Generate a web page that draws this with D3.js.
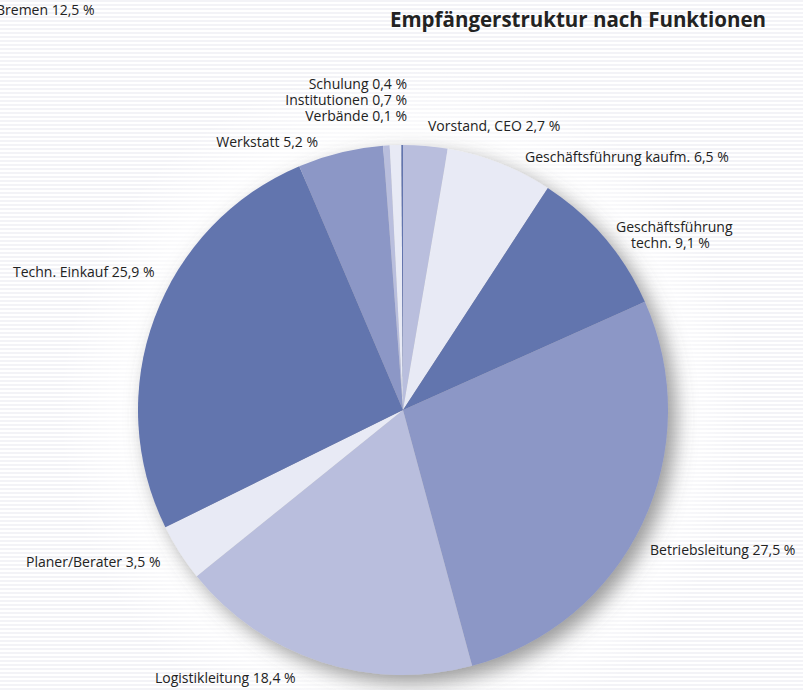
<!DOCTYPE html>
<html><head><meta charset="utf-8">
<script src="https://cdn.jsdelivr.net/npm/d3@7"></script>
<style>
html,body{margin:0;padding:0;background:#fff;}
svg{display:block;}
text{font-family:"Open Sans","Noto Sans",sans-serif;fill:#222;}
</style></head>
<body>
<script>
const categories = ["Vorstand, CEO","Geschäftsführung kaufm.","Geschäftsführung techn.","Betriebsleitung","Logistikleitung","Planer/Berater","Techn. Einkauf","Werkstatt","Schulung","Institutionen","Verbände"];
const values = [2.7,6.5,9.1,27.5,18.4,3.5,25.9,5.2,0.4,0.7,0.1];
const valueLabels = ["2,7","6,5","9,1","27,5","18,4","3,5","25,9","5,2","0,4","0,7","0,1"];
const palette = ["#b9bedd","#e8eaf5","#6274ae","#8c97c6"];
const title = "Empfängerstruktur nach Funktionen";
const sideNote = "Bremen 12,5 %";

// label layout (x, y, anchor, line break)
const labelLayout = [
  {x:428,y:131,a:"start"},
  {x:525,y:162,a:"start"},
  {x:616,y:232,a:"start",lines:["Geschäftsführung","techn. 9,1 %"],dx2:15},
  {x:650,y:555,a:"start"},
  {x:155,y:683,a:"start"},
  {x:26,y:567,a:"start"},
  {x:13,y:277,a:"start"},
  {x:318,y:147,a:"end"},
  {x:407,y:89,a:"end"},
  {x:407,y:105,a:"end"},
  {x:407,y:121,a:"end"}
];

const W=803,H=690,cx=403,cy=410,R=265;
const svg=d3.select("body").append("svg").attr("width",W).attr("height",H);
const defs=svg.append("defs");
const pat=defs.append("pattern").attr("id","stripes").attr("width",4).attr("height",4).attr("patternUnits","userSpaceOnUse");
pat.append("rect").attr("width",4).attr("height",4).attr("fill","#ffffff");
pat.append("rect").attr("width",4).attr("height",2).attr("fill","#f3f3f7");
const f=defs.append("filter").attr("id","shadow").attr("x","-20%").attr("y","-20%").attr("width","140%").attr("height","140%");
f.append("feDropShadow").attr("dx",8).attr("dy",8).attr("stdDeviation",10).attr("flood-color","#555").attr("flood-opacity",0.6);
const rg=defs.append("radialGradient").attr("id","glow");
rg.append("stop").attr("offset","0.7").attr("stop-color","#fff").attr("stop-opacity",1);
rg.append("stop").attr("offset","1").attr("stop-color","#fff").attr("stop-opacity",0);

svg.append("rect").attr("width",W).attr("height",H).attr("fill","url(#stripes)");
svg.append("circle").attr("cx",cx).attr("cy",cy).attr("r",R*1.3).attr("fill","url(#glow)");

const data=categories.map((c,i)=>({name:c,value:values[i],label:valueLabels[i],i}));
const pie=d3.pie().value(d=>d.value).sort(null);
const arc=d3.arc().innerRadius(0).outerRadius(R);
const g=svg.append("g").attr("transform",`translate(${cx},${cy})`);
const shadowG=g.append("g").attr("filter","url(#shadow)");
shadowG.selectAll("path").data(pie(data)).join("path")
  .attr("d",arc).attr("fill",d=>palette[d.data.i%4]);

svg.append("text").attr("x",390).attr("y",27).attr("font-size",20.5).attr("font-weight","bold").text(title);
svg.append("text").attr("x",-4).attr("y",15).attr("font-size",14).text(sideNote);

data.forEach((d,i)=>{
  const L=labelLayout[i];
  const t=svg.append("text").attr("font-size",14).attr("text-anchor",L.a);
  if(L.lines){
    t.append("tspan").attr("x",L.x).attr("y",L.y).text(L.lines[0]);
    t.append("tspan").attr("x",L.x+L.dx2).attr("y",L.y+16).text(L.lines[1]);
  } else {
    t.attr("x",L.x).attr("y",L.y).text(`${d.name} ${d.label} %`);
  }
});
</script>
</body></html>
